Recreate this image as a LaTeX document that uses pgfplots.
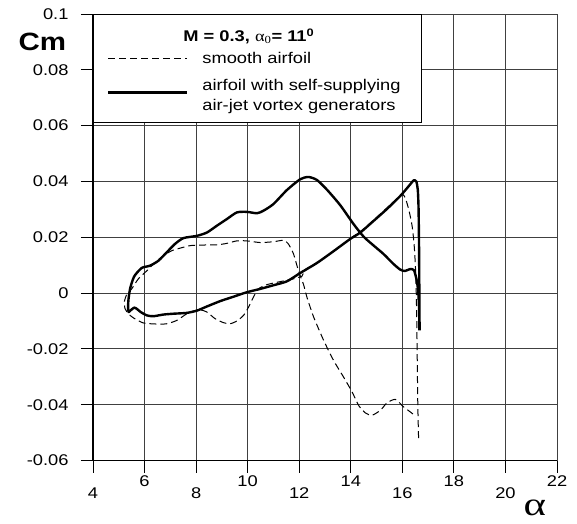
\documentclass[border=0pt]{standalone}
\usepackage{pgfplots}
\pgfplotsset{compat=1.18}
\usepackage{fontspec}
\setmainfont{Liberation Sans}[FakeStretch=1.18]
\newfontfamily\serif{Liberation Serif}[FakeStretch=1.18]
\newfontfamily\bigserif{Liberation Serif}[FakeStretch=1.3]

\begin{document}
\begin{tikzpicture}
\begin{axis}[
    scale only axis,
    width=464pt, height=446.5pt,
    xmin=4, xmax=22, ymin=-0.06, ymax=0.1,
    axis lines=left,
    axis line style={-, line width=1.5pt},
    tick align=outside,
    major tick length=12pt,
    tick style={black, line width=1pt},
    xtick={4,6,8,10,12,14,16,18,20,22},
    xticklabels={4,\raisebox{12pt}{6},8,\raisebox{12pt}{10},12,\raisebox{12pt}{14},16,\raisebox{12pt}{18},20,\raisebox{12pt}{22}},
    ytick={-0.06,-0.04,-0.02,0,0.02,0.04,0.06,0.08,0.1},
    yticklabels={-0.06,-0.04,-0.02,0,0.02,0.04,0.06,0.08,0.1},
    xticklabel style={anchor=base, yshift=-26pt},
    yticklabel style={anchor=east, xshift=-9pt},
    ticklabel style={font=\fontsize{15.5}{17}\selectfont},
    grid=major,
    major grid style={black!75, line width=0.9pt},
    xlabel={{\bigserif α}},
    every axis x label/.style={at={(rel axis cs:1,0)}, anchor=base west, xshift=-37pt, yshift=-54.5pt, font=\fontsize{33}{33}\selectfont},
    ylabel={Cm},
    every axis y label/.style={at={(rel axis cs:0,1)}, anchor=base west, xshift=-78pt, yshift=-36pt, font=\fontsize{25}{25}\selectfont\bfseries},
    legend style={at={(rel axis cs:0,1)}, anchor=north west, draw=black, line width=0.8pt, fill=white,
        inner xsep=0pt, inner ysep=10pt, row sep=8pt, column sep=0pt,
        font=\fontsize{15.5}{20}\selectfont,
        nodes={inner xsep=0pt, inner ysep=0pt, align=left}},
    legend cell align=left,
    legend image code/.code={\path[draw=none] (0pt,0pt) rectangle (109pt,0pt); \draw[#1] (15pt,0pt) -- (94pt,0pt);},
]
\addlegendimage{empty legend}
\addlegendentry{\hspace*{-19pt}\rule{0pt}{17pt}\textbf{M = 0.3,} {\serif α\textsubscript{0}}\textbf{= 11\textsuperscript{0}}\rule[-7pt]{0pt}{0pt}}

\addplot[black, line width=1pt, dash pattern=on 7pt off 4pt, smooth, tension=0.4] coordinates {
(16.63,-0.0520) (16.60,-0.0400) (16.58,-0.0250) (16.56,-0.0100) (16.54,0.0000)
(16.51,0.0090) (16.46,0.0170) (16.38,0.0240) (16.26,0.0295) (16.12,0.0340)
(16.00,0.0355) (15.86,0.0345) (15.40,0.0305) (14.89,0.0262) (14.37,0.0220)
(13.98,0.0195) (13.33,0.0150) (12.69,0.0108) (12.25,0.0085) (12.10,0.0060)
(11.95,0.0056) (11.78,0.0051) (11.26,0.0041) (10.74,0.0030) (10.42,0.0015)
(10.22,-0.0015) (10.03,-0.0051) (9.84,-0.0080) (9.58,-0.0100) (9.32,-0.0110)
(9.06,-0.0106) (8.74,-0.0092) (8.42,-0.0068) (8.16,-0.0060) (7.90,-0.0064)
(7.64,-0.0074) (7.25,-0.0098) (6.86,-0.0110) (6.47,-0.0111) (5.95,-0.0107)
(5.57,-0.0089) (5.37,-0.0074) (5.24,-0.0055) (5.22,-0.0030) (5.31,-0.0005)
(5.50,0.0015) (5.76,0.0051) (6.09,0.0080) (6.41,0.0110) (6.73,0.0134)
(7.06,0.0152) (7.38,0.0161) (7.77,0.0170) (8.16,0.0172) (8.80,0.0173)
(9.19,0.0178) (9.58,0.0187) (9.97,0.0187) (10.49,0.0181) (11.00,0.0184)
(11.39,0.0189) (11.58,0.0176) (11.78,0.0140) (11.97,0.0080) (12.17,0.0030)
(12.30,-0.0015) (12.56,-0.0086) (12.95,-0.0170) (13.33,-0.0241) (13.72,-0.0301)
(14.05,-0.0354) (14.30,-0.0402) (14.56,-0.0429) (14.82,-0.0438) (15.15,-0.0420)
(15.40,-0.0394) (15.73,-0.0381) (16.05,-0.0408) (16.31,-0.0426) (16.50,-0.0440)
};
\addlegendentry{\rule{0pt}{13pt}smooth airfoil\rule[-3pt]{0pt}{0pt}}

\addplot[black, line width=2.4pt, smooth, tension=0.4, line join=round] coordinates {
(16.66,-0.0134) (16.65,-0.0060) (16.62,0.0000) (16.56,0.0045) (16.45,0.0082)
(16.30,0.0086) (16.10,0.0079) (15.92,0.0084) (15.66,0.0104) (15.27,0.0140)
(14.89,0.0170) (14.50,0.0202) (14.11,0.0247) (13.59,0.0315) (13.08,0.0370)
(12.69,0.0405) (12.36,0.0416) (12.04,0.0408) (11.52,0.0369) (11.00,0.0319)
(10.61,0.0295) (10.36,0.0286) (9.97,0.0291) (9.58,0.0289) (9.19,0.0265)
(8.80,0.0241) (8.42,0.0217) (8.03,0.0205) (7.51,0.0197) (7.18,0.0176)
(6.86,0.0146) (6.54,0.0116) (6.21,0.0098) (5.89,0.0090) (5.60,0.0060)
(5.45,0.0020) (5.38,-0.0020) (5.36,-0.0050) (5.38,-0.0068) (5.46,-0.0062)
(5.60,-0.0052) (5.72,-0.0058) (5.85,-0.0068) (6.09,-0.0080) (6.34,-0.0083)
(6.73,-0.0077) (7.12,-0.0074) (7.64,-0.0071) (8.03,-0.0063) (8.42,-0.0048)
(8.93,-0.0029) (9.45,-0.0013) (9.97,0.0003) (10.49,0.0015) (11.00,0.0028)
(11.52,0.0042) (12.04,0.0072) (12.69,0.0108) (13.33,0.0150) (13.98,0.0194)
(14.37,0.0217) (14.89,0.0259) (15.40,0.0301) (15.92,0.0348) (16.31,0.0390)
(16.44,0.0404) (16.54,0.0400) (16.60,0.0370) (16.63,0.0300) (16.65,0.0150)
(16.66,0.0000) (16.67,-0.0134)
};
\addlegendentry{\rule{0pt}{17pt}airfoil with self-supplying\hspace*{21pt}\\air-jet vortex generators\rule[-5pt]{0pt}{0pt}}
\end{axis}
\pgfresetboundingbox
\path ([shift={(-93pt,-62.5pt)}]current axis.south west) rectangle ([shift={(20pt,14pt)}]current axis.north east);
\end{tikzpicture}
\end{document}
